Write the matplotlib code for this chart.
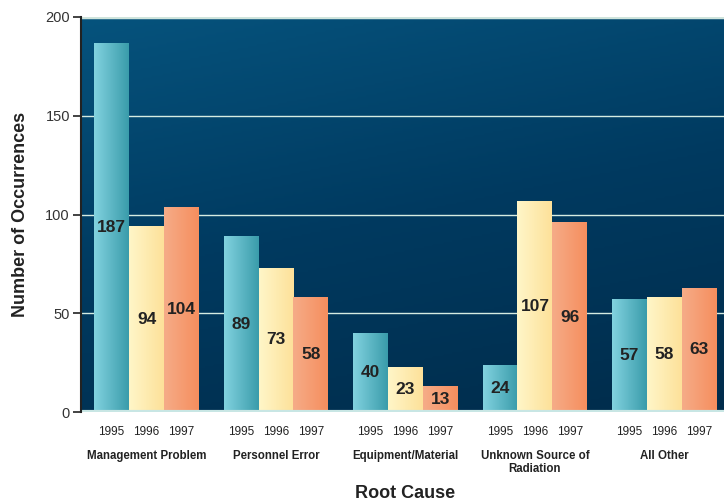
import numpy as np
import matplotlib.pyplot as plt
from matplotlib.colors import LinearSegmentedColormap, to_rgb

categories = ["Management Problem", "Personnel Error", "Equipment/Material",
              "Unknown Source of\nRadiation", "All Other"]
years = ["1995", "1996", "1997"]
v1995 = [187, 89, 40, 24, 57]
v1996 = [94, 73, 23, 107, 58]
v1997 = [104, 58, 13, 96, 63]

# left/right colours of each year's bar gradient
bar_colors = {
    "1995": ("#82d2df", "#3a9cab"),
    "1996": ("#fff6c8", "#fde19a"),
    "1997": ("#f6ac88", "#f58e5e"),
}

plt.rcParams["font.family"] = ["Liberation Sans", "DejaVu Sans"]

fig = plt.figure(figsize=(7.24, 5.04), dpi=100)
ax = fig.add_axes([0.1119, 0.1825, 0.8881, 0.7838])

# background gradient
yy, xx = np.mgrid[0:1:200j, 0:1:300j]
t = 0.75 * yy + 0.25 * xx
bg = LinearSegmentedColormap.from_list("bg", ["#06537d", "#003a60", "#002c4b"])
ax.imshow(bg(t), extent=[0, 1, 0, 1], transform=ax.transAxes,
          aspect="auto", zorder=0, origin="upper")

x = np.arange(len(categories))
w = 0.27
series = [v1995, v1996, v1997]

for i, (yr, vals) in enumerate(zip(years, series)):
    pos = x + (i - 1) * w
    bars = ax.bar(pos, vals, width=w, color=bar_colors[yr][1], zorder=2,
                  linewidth=0)
    c0 = np.array(to_rgb(bar_colors[yr][0]))
    c1 = np.array(to_rgb(bar_colors[yr][1]))
    s = np.linspace(0, 1, 60)
    row = c0[None, :] * (1 - s[:, None]) + c1[None, :] * s[:, None]
    grad = np.repeat(row[None, :, :], 2, axis=0)
    for b, p, v in zip(bars, pos, vals):
        im = ax.imshow(grad, extent=[p - w / 2, p + w / 2, 0, v],
                       aspect="auto", zorder=3, interpolation="bilinear")
        im.set_clip_path(b)
        ax.text(p, v / 2, str(v), ha="center", va="center", fontsize=12.5,
                fontweight="bold", color="#222222", zorder=5)
        ax.text(p, -0.035, yr, transform=ax.get_xaxis_transform(),
                ha="center", va="top", fontsize=8.5, color="#222222")

for xi, cat in zip(x, categories):
    ax.text(xi, -0.095, cat, transform=ax.get_xaxis_transform(),
            ha="center", va="top", fontsize=8.3, fontweight="bold",
            color="#222222", linespacing=1.15)

ax.set_xlim(-0.506, 4.46)
ax.set_ylim(0, 200)
ax.set_yticks([0, 50, 100, 150, 200])
ax.set_xticks([])
for g in [50, 100, 150]:
    ax.axhline(g, color="#d6ece2", lw=1, zorder=1)
ax.axhline(200, color="#cfe4dc", lw=2.5, zorder=6)
ax.axhline(0, color="#c8e6e4", lw=3, zorder=6)

for sp in ["top", "right", "bottom"]:
    ax.spines[sp].set_visible(False)
ax.spines["left"].set_color("#222222")
ax.spines["left"].set_linewidth(1.5)
ax.spines["left"].set_zorder(7)
ax.tick_params(axis="y", length=6, width=1.2, color="#222222",
               labelsize=10.5, labelcolor="#333333", pad=2)

ax.set_ylabel("Number of Occurrences", fontsize=13, fontweight="bold",
              color="#222222", labelpad=12)
fig.text(0.56, 0.02, "Root Cause", ha="center", va="center", fontsize=13,
         fontweight="bold", color="#222222")

fig.savefig("out.png", dpi=100)
